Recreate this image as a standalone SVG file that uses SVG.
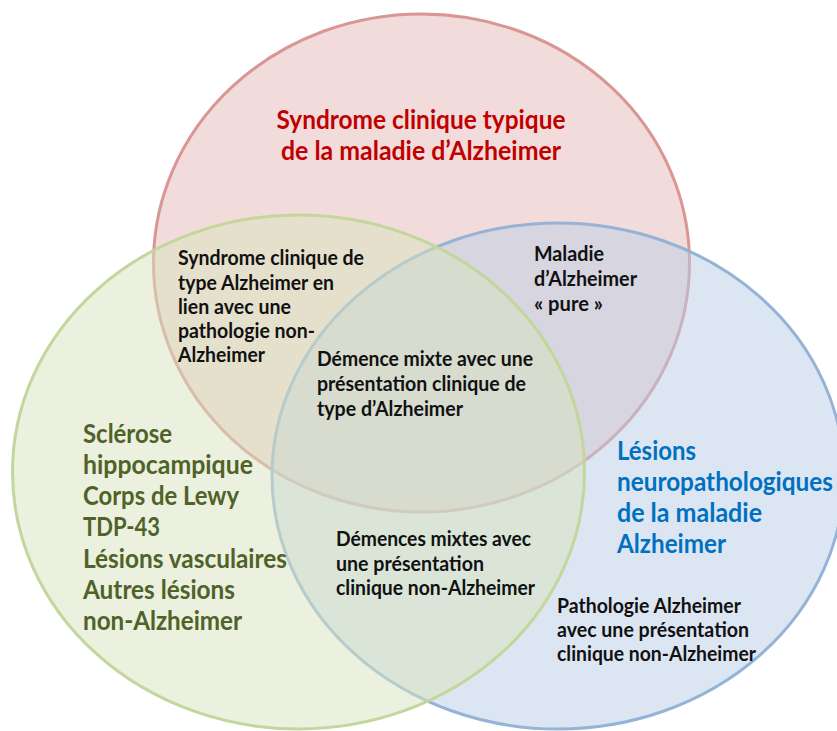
<svg xmlns="http://www.w3.org/2000/svg" width="837" height="731" viewBox="0 0 837 731">
<style>
text{font-family:Lato,"Open Sans","Liberation Sans",sans-serif;font-weight:bold}
.blk{font-size:20.7px;fill:#111}
.big{font-size:26px}
.red{fill:#c00000}
.grn{fill:#4f6228}
.blu{fill:#0070c0}
.set{stroke-width:3;fill-opacity:0.5}
</style>
<rect width="837" height="731" fill="#ffffff"/>
<g id="set-clinical">
<ellipse class="set" cx="421.5" cy="263" rx="268" ry="249" fill="#e6b9b8" stroke="#d99694"/>
</g>
<g id="set-neuropath">
<ellipse class="set" cx="558" cy="476" rx="286" ry="253" fill="#b9cde5" stroke="#95b3d7"/>
</g>
<g id="set-other">
<ellipse class="set" cx="298.5" cy="472" rx="286" ry="257" fill="#d7e4bd" stroke="#c3d69b"/>
</g>
<g id="label-clinical" class="big red" text-anchor="middle">
<text x="421" y="129" textLength="289" lengthAdjust="spacingAndGlyphs">Syndrome clinique typique</text>
<text x="421" y="160" textLength="280" lengthAdjust="spacingAndGlyphs">de la maladie d’Alzheimer</text>
</g>
<g id="label-clin-other" class="blk">
<text x="178" y="265" textLength="186" lengthAdjust="spacingAndGlyphs">Syndrome clinique de</text>
<text x="178" y="289.5" textLength="156" lengthAdjust="spacingAndGlyphs">type Alzheimer en</text>
<text x="178" y="314" textLength="113" lengthAdjust="spacingAndGlyphs">lien avec une</text>
<text x="178" y="338" textLength="137" lengthAdjust="spacingAndGlyphs">pathologie non-</text>
<text x="178" y="362" textLength="87" lengthAdjust="spacingAndGlyphs">Alzheimer</text>
</g>
<g id="label-pure" class="blk">
<text x="534" y="261" textLength="70" lengthAdjust="spacingAndGlyphs">Maladie</text>
<text x="534" y="286" textLength="103" lengthAdjust="spacingAndGlyphs">d’Alzheimer</text>
<text x="534" y="311" textLength="69" lengthAdjust="spacingAndGlyphs">« pure »</text>
</g>
<g id="label-center" class="blk">
<text x="317" y="366" textLength="216" lengthAdjust="spacingAndGlyphs">Démence mixte avec une</text>
<text x="317" y="391" textLength="209" lengthAdjust="spacingAndGlyphs">présentation clinique de</text>
<text x="317" y="416" textLength="146" lengthAdjust="spacingAndGlyphs">type d’Alzheimer</text>
</g>
<g id="label-other" class="big grn">
<text x="83" y="443" textLength="89" lengthAdjust="spacingAndGlyphs">Sclérose</text>
<text x="83" y="474" textLength="170" lengthAdjust="spacingAndGlyphs">hippocampique</text>
<text x="83" y="505" textLength="156" lengthAdjust="spacingAndGlyphs">Corps de Lewy</text>
<text x="83" y="536" textLength="77" lengthAdjust="spacingAndGlyphs">TDP-43</text>
<text x="83" y="568" textLength="204" lengthAdjust="spacingAndGlyphs">Lésions vasculaires</text>
<text x="83" y="599" textLength="152" lengthAdjust="spacingAndGlyphs">Autres lésions</text>
<text x="83" y="630" textLength="159" lengthAdjust="spacingAndGlyphs">non-Alzheimer</text>
</g>
<g id="label-neuropath" class="big blu">
<text x="617" y="460" textLength="79" lengthAdjust="spacingAndGlyphs">Lésions</text>
<text x="617" y="491" textLength="216" lengthAdjust="spacingAndGlyphs">neuropathologiques</text>
<text x="617" y="522" textLength="145" lengthAdjust="spacingAndGlyphs">de la maladie</text>
<text x="617" y="553" textLength="109" lengthAdjust="spacingAndGlyphs">Alzheimer</text>
</g>
<g id="label-mixed" class="blk">
<text x="336" y="546" textLength="195" lengthAdjust="spacingAndGlyphs">Démences mixtes avec</text>
<text x="336" y="571" textLength="148" lengthAdjust="spacingAndGlyphs">une présentation</text>
<text x="336" y="595" textLength="199" lengthAdjust="spacingAndGlyphs">clinique non-Alzheimer</text>
</g>
<g id="label-patho" class="blk">
<text x="557" y="613" textLength="184" lengthAdjust="spacingAndGlyphs">Pathologie Alzheimer</text>
<text x="557" y="637" textLength="192" lengthAdjust="spacingAndGlyphs">avec une présentation</text>
<text x="557" y="661" textLength="199" lengthAdjust="spacingAndGlyphs">clinique non-Alzheimer</text>
</g>
</svg>
